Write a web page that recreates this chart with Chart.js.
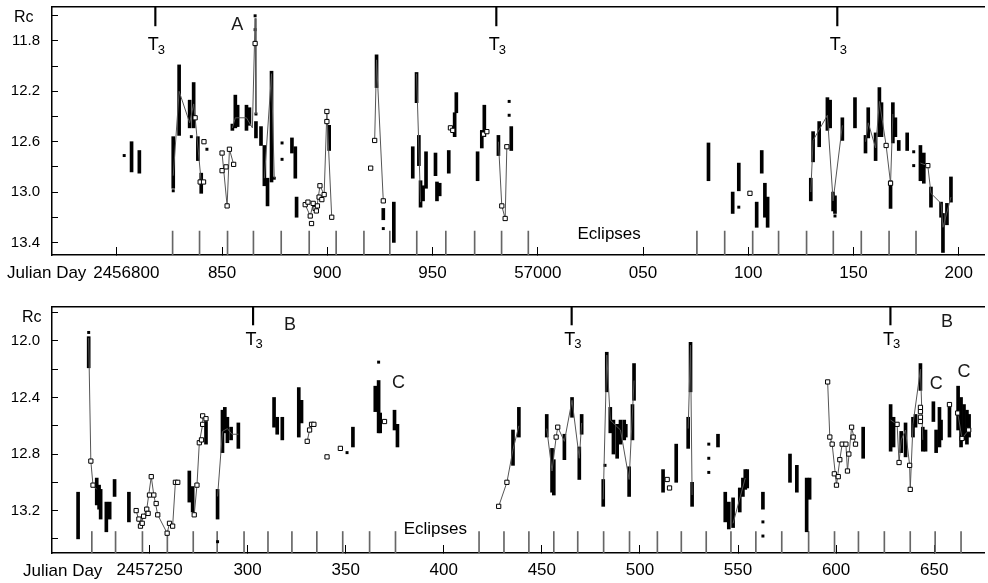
<!DOCTYPE html>
<html>
<head>
<meta charset="utf-8">
<script src="https://cdn.jsdelivr.net/npm/chart.js@4.4.1/dist/chart.umd.min.js"></script>
<style>
  html, body { margin: 0; padding: 0; background: #fff; }
  canvas { display: block; }
</style>
</head>
<body>
<canvas id="top-chart" width="988" height="290"></canvas>
<canvas id="bottom-chart" width="988" height="293"></canvas>
<script>
const FONT = "'Liberation Sans', Arial, Helvetica, sans-serif";
Chart.defaults.font.family = FONT;
Chart.defaults.color = '#000';

// ---------- upper panel, JD 2456770 - 2457212 ----------
const topXTicks = [56800, 56850, 56900, 56950, 57000, 57050, 57100, 57150, 57200];
const topXLabels = ['    2456800', '850', '900', '950', '57000', '050', '100', '150', '200'];
const topYTicks = [11.6, 11.8, 12.0, 12.2, 12.4, 12.6, 12.8, 13.0, 13.2, 13.4];
const topYLabels = ['', '11.8', '', '12.2', '', '12.6', '', '13.0', '', '13.4'];

const topT3 = [56818.3, 56980.3, 57142.3];
const topEclipses = [56826.5, 56839.3, 56852.6, 56864.9, 56878.1, 56891.4, 56904.2, 56917.4,
  56929.7, 56942.5, 56956.3, 56970.0, 56982.8, 56995.5, 57075.6, 57088.8, 57102.1, 57114.4,
  57127.7, 57140.4, 57153.7, 57166.9, 57179.7];

// nightly runs: [JD - 2400000, brightest Rc, faintest Rc]
const topColumns = [
  [56807.0, 12.60, 12.84], [56810.7, 12.67, 12.85], [56826.8, 12.56, 12.97], [56829.6, 11.99, 12.55],
  [56834.6, 12.27, 12.49], [56836.5, 12.13, 12.49], [56838.5, 12.56, 12.75], [56840.1, 12.85, 13.01],
  [56854.9, 12.46, 12.51], [56856.3, 12.23, 12.49], [56857.4, 12.31, 12.48], [56861.6, 12.31, 12.51],
  [56863.0, 12.33, 12.47], [56866.1, 12.44, 12.57], [56868.5, 12.48, 12.63], [56870.1, 12.63, 12.95],
  [56871.6, 12.89, 13.11], [56873.5, 12.04, 12.92], [56883.2, 12.57, 12.69], [56884.8, 12.64, 12.89],
  [56885.4, 13.04, 13.20], [56900.9, 12.47, 12.67], [56923.4, 11.91, 12.17], [56926.6, 13.13, 13.22],
  [56931.6, 13.08, 13.40], [56940.6, 12.64, 12.89], [56942.4, 12.05, 12.29], [56943.5, 12.55, 12.79],
  [56944.3, 12.91, 13.12], [56945.5, 12.95, 13.07], [56946.9, 12.68, 12.97], [56951.4, 12.69, 12.87],
  [56952.1, 12.92, 13.07], [56953.4, 12.93, 13.03], [56957.7, 12.67, 12.85], [56960.5, 12.37, 12.56],
  [56961.3, 12.21, 12.37], [56971.4, 12.68, 12.91], [56973.4, 12.51, 12.65], [56974.6, 12.31, 12.56],
  [56981.3, 12.55, 12.71], [56987.4, 12.48, 12.67], [57081.1, 12.61, 12.91], [57092.6, 13.00, 13.17],
  [57095.5, 12.77, 12.99], [57104.0, 13.08, 13.28], [57106.4, 12.67, 12.85], [57107.9, 12.93, 13.20],
  [57109.2, 13.04, 13.28], [57129.7, 12.89, 13.07], [57130.8, 12.52, 12.76], [57133.7, 12.44, 12.64],
  [57137.6, 12.25, 12.51], [57138.9, 12.27, 12.49], [57140.3, 13.00, 13.15], [57141.2, 13.03, 13.17],
  [57144.7, 12.41, 12.59], [57150.7, 12.25, 12.49], [57155.7, 12.55, 12.69], [57157.0, 12.33, 12.57],
  [57160.5, 12.53, 12.75], [57162.3, 12.17, 12.56], [57163.3, 12.29, 12.56], [57167.6, 12.91, 13.13],
  [57168.7, 12.29, 12.61], [57169.9, 12.41, 12.56], [57171.5, 12.59, 12.67], [57175.5, 12.53, 12.67],
  [57181.8, 12.63, 12.91], [57183.4, 12.69, 12.93], [57186.8, 12.96, 13.12], [57191.6, 13.08, 13.20],
  [57192.5, 13.17, 13.48], [57194.4, 13.09, 13.26], [57196.3, 12.88, 13.08]
];
const topDots = [
  [56803.5, 12.71], [56826.8, 12.99], [56835.4, 12.56], [56842.8, 12.66], [56865.7, 11.60],
  [56865.7, 11.71], [56866.1, 12.38], [56874.8, 12.89], [56878.5, 12.61], [56878.5, 12.74],
  [56926.6, 13.29], [56986.4, 12.28], [56986.4, 12.39], [57095.5, 13.12], [57141.2, 13.19],
  [57178.6, 12.68], [57178.6, 12.79]
];
const topOpen = [
  [56837.2, 12.41], [56839.6, 12.92], [56841.2, 12.92], [56841.4, 12.60], [56850.0, 12.69],
  [56850.0, 12.83], [56851.9, 12.80], [56852.4, 13.11], [56853.5, 12.66], [56855.5, 12.78],
  [56865.7, 11.82], [56889.5, 13.10], [56890.8, 13.08], [56891.9, 13.19], [56892.5, 13.25],
  [56893.3, 13.09], [56894.2, 13.13], [56894.8, 13.15], [56895.3, 13.11], [56896.1, 13.04],
  [56896.5, 12.95], [56897.4, 13.06], [56898.5, 13.02], [56899.8, 12.36], [56899.8, 12.44],
  [56902.1, 13.20], [56920.6, 12.81], [56922.5, 12.59], [56926.6, 13.07], [56958.5, 12.49],
  [56959.6, 12.51], [56974.2, 12.54], [56975.8, 12.52], [56982.9, 13.11], [56984.5, 13.21],
  [56985.3, 12.64], [57100.8, 13.01], [57165.5, 12.63], [57167.6, 12.93], [57185.3, 12.79]
];
const topCurves = [
  [[56826.8, 12.87], [56829.6, 12.20], [56834.6, 12.45], [56836.5, 12.30], [56837.2, 12.41], [56840.1, 12.92]],
  [[56850.0, 12.69], [56852.4, 13.11], [56853.5, 12.66], [56855.5, 12.78]],
  [[56854.9, 12.49], [56856.3, 12.41], [56861.6, 12.41], [56864.4, 12.49], [56865.7, 11.62], [56866.1, 12.38]],
  [[56870.1, 12.89], [56873.5, 12.06], [56874.8, 12.89]],
  [[56889.5, 13.10], [56891.9, 13.19], [56893.3, 13.09], [56894.8, 13.15], [56896.5, 12.95],
   [56898.5, 13.02], [56899.8, 12.36], [56902.1, 13.20]],
  [[56922.5, 12.59], [56923.4, 11.95], [56926.6, 13.07]],
  [[56942.4, 12.06], [56944.3, 13.08]],
  [[56981.3, 12.60], [56982.9, 13.11], [56984.5, 13.21], [56985.3, 12.64]],
  [[57129.7, 13.00], [57130.8, 12.59], [57137.6, 12.39], [57140.3, 13.07], [57144.7, 12.47]],
  [[57155.7, 12.60], [57157.0, 12.45], [57160.5, 12.65], [57162.3, 12.28], [57165.5, 12.63],
   [57167.6, 12.93], [57168.7, 12.38]],
  [[57181.8, 12.77], [57185.3, 12.79], [57186.8, 13.01], [57191.6, 13.09], [57192.5, 13.28], [57196.3, 13.04]]
];
const topLetters = [['A', 56857.2, 11.673]];
const topEclipseLabel = [57033.9, 13.333];

// ---------- lower panel, JD 2457200 - 2457675 ----------
const botXTicks = [57250, 57300, 57350, 57400, 57450, 57500, 57550, 57600, 57650];
const botXLabels = ['2457250', '300', '350', '400', '450', '500', '550', '600', '650'];
const botYTicks = [11.8, 12.0, 12.2, 12.4, 12.6, 12.8, 13.0, 13.2, 13.4];
const botYLabels = ['', '12.0', '', '12.4', '', '12.8', '', '13.2', ''];

const botT3 = [57302.8, 57465.2, 57627.7];
const botEclipses = [57220.6, 57232.7, 57246.4, 57259.1, 57272.3, 57284.5, 57298.2, 57310.4,
  57322.6, 57335.3, 57348.5, 57362.2, 57375.4, 57418.0, 57430.7, 57443.4, 57456.1, 57468.3,
  57481.5, 57494.7, 57508.9, 57521.1, 57533.8, 57546.4, 57559.1, 57572.3, 57586.0, 57599.2,
  57611.4, 57624.6, 57637.8, 57650.5, 57663.7];

const botColumns = [
  [57213.6, 13.07, 13.40], [57219.0, 11.97, 12.19], [57223.1, 12.97, 13.16], [57224.3, 13.02, 13.19],
  [57225.1, 13.05, 13.26], [57228.0, 13.14, 13.35], [57229.7, 13.14, 13.26], [57232.2, 12.98, 13.10],
  [57239.5, 13.07, 13.28], [57270.3, 12.92, 13.14], [57272.0, 13.03, 13.21], [57278.8, 12.57, 12.73],
  [57284.7, 13.05, 13.26], [57287.2, 12.49, 12.79], [57288.4, 12.47, 12.65], [57289.7, 12.54, 12.72],
  [57291.6, 12.61, 12.70], [57295.3, 12.58, 12.76], [57313.5, 12.40, 12.61], [57315.1, 12.54, 12.66],
  [57317.7, 12.54, 12.70], [57326.1, 12.33, 12.68], [57327.5, 12.42, 12.58], [57353.7, 12.61, 12.75],
  [57365.1, 12.32, 12.50], [57366.8, 12.28, 12.65], [57367.6, 12.51, 12.65], [57374.9, 12.49, 12.63],
  [57376.4, 12.59, 12.75], [57435.3, 12.63, 12.88], [57438.3, 12.47, 12.68], [57452.5, 12.52, 12.68],
  [57455.2, 12.76, 13.07], [57456.1, 12.84, 13.09], [57461.5, 12.66, 12.84], [57465.4, 12.40, 12.54],
  [57469.1, 12.75, 12.98], [57470.3, 12.52, 12.66], [57481.3, 12.98, 13.17], [57483.1, 12.08, 12.36],
  [57484.9, 12.47, 12.65], [57486.5, 12.56, 12.80], [57488.4, 12.59, 12.83], [57490.1, 12.56, 12.73],
  [57492.0, 12.56, 12.70], [57492.8, 12.59, 12.68], [57494.5, 12.89, 13.10], [57496.2, 12.45, 12.70],
  [57497.0, 12.16, 12.42], [57511.8, 12.91, 13.07], [57518.5, 12.73, 13.00], [57524.6, 12.54, 12.76],
  [57525.8, 12.01, 12.36], [57526.6, 13.00, 13.17], [57539.8, 12.66, 12.75], [57543.5, 13.07, 13.28],
  [57545.3, 13.14, 13.33], [57547.5, 13.11, 13.32], [57550.9, 13.04, 13.21], [57552.5, 12.97, 13.10],
  [57553.7, 12.91, 13.05], [57554.7, 12.91, 13.04], [57562.7, 13.07, 13.19], [57576.5, 12.80, 13.00],
  [57580.0, 12.88, 13.07], [57585.0, 12.97, 13.35], [57586.5, 12.97, 13.12], [57613.8, 12.61, 12.83],
  [57627.8, 12.45, 12.78], [57629.3, 12.54, 12.75], [57633.2, 12.64, 12.79], [57635.4, 12.58, 12.82],
  [57639.2, 12.54, 12.68], [57640.5, 12.52, 12.61], [57643.0, 12.16, 12.35], [57644.2, 12.61, 12.78],
  [57645.6, 12.63, 12.78], [57649.6, 12.43, 12.57], [57651.0, 12.63, 12.79], [57652.7, 12.47, 12.75],
  [57653.5, 12.56, 12.70], [57657.8, 12.47, 12.68], [57662.2, 12.32, 12.63], [57663.7, 12.40, 12.75],
  [57665.2, 12.45, 12.70], [57666.7, 12.49, 12.73], [57667.8, 12.52, 12.68]
];
const botDots = [
  [57219.0, 11.94], [57284.7, 13.42], [57350.7, 12.79], [57366.8, 12.15], [57482.2, 12.88],
  [57535.1, 12.73], [57535.1, 12.83], [57535.1, 12.93], [57562.7, 13.28], [57562.7, 13.38]
];
const botOpen = [
  [57220.1, 12.85], [57221.2, 13.02], [57243.2, 13.20], [57244.6, 13.26], [57245.4, 13.31],
  [57246.3, 13.29], [57247.0, 13.24], [57248.6, 13.19], [57249.3, 13.22], [57250.0, 13.09],
  [57250.9, 12.96], [57252.2, 13.09], [57253.4, 13.15], [57254.2, 13.23], [57259.0, 13.36],
  [57260.2, 13.29], [57261.8, 13.31], [57263.2, 13.00], [57264.4, 13.00], [57272.8, 13.23],
  [57274.2, 13.02], [57275.4, 12.72], [57276.5, 12.70], [57277.1, 12.59], [57277.1, 12.53],
  [57278.8, 12.55], [57330.4, 12.71], [57331.6, 12.63], [57332.6, 12.59], [57333.8, 12.59],
  [57340.5, 12.82], [57347.3, 12.76], [57369.8, 12.57], [57428.0, 13.17], [57432.2, 13.00],
  [57457.3, 12.68], [57458.1, 12.61], [57513.9, 12.98], [57515.1, 13.04], [57595.7, 12.29],
  [57596.8, 12.68], [57598.0, 12.73], [57599.1, 12.94], [57600.2, 13.02], [57601.1, 12.96],
  [57601.9, 12.84], [57603.1, 12.73], [57605.0, 12.73], [57605.8, 12.92], [57606.5, 12.80],
  [57607.9, 12.61], [57608.7, 12.68], [57609.9, 12.73], [57631.1, 12.59], [57632.1, 12.86],
  [57637.5, 12.88], [57637.8, 13.05], [57643.0, 12.47], [57643.0, 12.50], [57643.0, 12.54],
  [57643.0, 12.57], [57657.8, 12.45], [57662.0, 12.51], [57664.2, 12.69], [57667.6, 12.63]
];
const botCurves = [
  [[57219.0, 11.98], [57220.1, 12.85], [57221.2, 13.02], [57223.1, 13.05]],
  [[57243.2, 13.20], [57245.4, 13.31], [57247.0, 13.24], [57248.6, 13.19], [57250.9, 12.96],
   [57252.2, 13.09], [57254.2, 13.23], [57259.0, 13.36], [57260.2, 13.29], [57261.8, 13.31], [57263.2, 13.00]],
  [[57272.8, 13.23], [57274.2, 13.02], [57275.4, 12.72], [57277.1, 12.59], [57277.1, 12.53]],
  [[57284.7, 13.10], [57287.2, 12.64], [57289.7, 12.62], [57292.0, 12.66], [57295.3, 12.66]],
  [[57330.4, 12.71], [57331.6, 12.63], [57333.8, 12.59]],
  [[57428.0, 13.17], [57432.2, 13.00], [57435.3, 12.77], [57438.3, 12.60]],
  [[57452.5, 12.62], [57455.2, 12.92], [57457.3, 12.68], [57458.1, 12.61], [57461.5, 12.71],
   [57465.4, 12.42], [57469.1, 12.83], [57470.3, 12.58]],
  [[57481.3, 13.12], [57483.1, 12.10], [57484.9, 12.56], [57490.1, 12.63], [57494.5, 12.98], [57497.0, 12.28]],
  [[57524.6, 12.62], [57525.8, 12.03], [57526.6, 13.09]],
  [[57547.5, 13.29], [57553.7, 12.97]],
  [[57595.7, 12.29], [57596.8, 12.68], [57598.0, 12.73], [57600.2, 13.02], [57601.9, 12.84],
   [57603.1, 12.73], [57605.0, 12.73], [57605.8, 12.92], [57607.9, 12.61], [57609.9, 12.73]],
  [[57627.8, 12.56], [57631.1, 12.59], [57632.1, 12.86], [57633.2, 12.70], [57635.4, 12.63],
   [57637.5, 12.88], [57637.8, 13.05], [57639.2, 12.59], [57643.0, 12.20], [57644.2, 12.70]],
  [[57662.0, 12.51], [57664.2, 12.69], [57667.6, 12.63]]
];
const botLetters = [['B', 57321.6, 11.887], ['B', 57656.6, 11.866], ['C', 57376.9, 12.296],
  ['C', 57651.0, 12.303], ['C', 57665.2, 12.219]];
const botEclipseLabel = [57395.7, 13.334];

function textPlugin(p) {
  return {
    id: 'panelText',
    afterDraw(chart) {
      const ctx = chart.ctx;
      const xs = chart.scales.x, ys = chart.scales.y;
      ctx.save();
      ctx.fillStyle = '#000';
      ctx.textBaseline = 'middle';
      ctx.textAlign = 'left';
      ctx.font = '16px ' + FONT;
      ctx.fillText('Rc', p.rc[0], p.rc[1]);
      ctx.font = '17px ' + FONT;
      ctx.fillText('Julian Day', p.jd[0], p.jd[1]);

      // T3 labels under each marker
      const lineEnd = ys.getPixelForValue(p.t3End);
      p.t3.forEach(d => {
        const px = xs.getPixelForValue(d);
        ctx.textBaseline = 'alphabetic';
        ctx.textAlign = 'center';
        ctx.font = '18px ' + FONT;
        ctx.fillText('T', px - 2, lineEnd + p.t3Gap);
        ctx.textAlign = 'left';
        ctx.font = '13px ' + FONT;
        ctx.fillText('3', px + 2.5, lineEnd + p.t3Gap + 3.5);
      });

      ctx.textAlign = 'center';
      ctx.textBaseline = 'middle';
      ctx.font = '18px ' + FONT;
      ctx.fillStyle = '#1a1a1a';
      p.letters.forEach(([txt, d, m]) => {
        ctx.fillText(txt, xs.getPixelForValue(d), ys.getPixelForValue(m));
      });
      ctx.fillStyle = '#000';
      ctx.font = '17px ' + FONT;
      ctx.fillText('Eclipses', xs.getPixelForValue(p.eclLabel[0]), ys.getPixelForValue(p.eclLabel[1]));
      ctx.restore();
    }
  };
}

function makePanel(canvasId, p) {
  const ctx = document.getElementById(canvasId).getContext('2d');
  const pts = rows => rows.map(([x, y]) => ({ x, y }));
  const bars = (rows, extra) => Object.assign({
    type: 'bar', stack: 'marks', borderWidth: 0, borderSkipped: false, data: rows
  }, extra);

  const datasets = [
    { type: 'scatter', data: pts(p.open), pointStyle: 'rect', pointRadius: 3, pointHoverRadius: 3,
      pointBackgroundColor: '#fff', pointBorderColor: '#000', pointBorderWidth: 1 },
    ...p.curves.map(seg => ({ type: 'scatter', showLine: true, data: pts(seg),
      borderColor: '#555', borderWidth: 1, pointRadius: 0, pointHoverRadius: 0 })),
    { type: 'scatter', data: pts(p.dots), pointStyle: 'rect', pointRadius: 2.1, pointHoverRadius: 2.1,
      pointBackgroundColor: '#000', pointBorderWidth: 0 },
    bars(p.columns.map(([x, lo, hi]) => ({ x, y: [lo, hi] })), { backgroundColor: '#000', barThickness: 3 }),
    bars(p.t3.map(x => ({ x, y: [p.magRange[0], p.t3End] })), { backgroundColor: '#000', barThickness: 1.5 }),
    bars(p.eclipses.map(x => ({ x, y: [p.eclTop, p.magRange[1]] })), { backgroundColor: '#666', barThickness: 1 })
  ];

  return new Chart(ctx, {
    type: 'scatter',
    data: { datasets },
    options: {
      responsive: false,
      animation: false,
      events: [],
      layout: { padding: { top: p.padTop, left: 0, right: 0, bottom: 0 } },
      plugins: { legend: { display: false }, tooltip: { enabled: false } },
      scales: {
        x: {
          type: 'linear', position: 'bottom', min: p.range[0], max: p.range[1], offset: false,
          afterBuildTicks: s => { s.ticks = p.xTicks.map(value => ({ value })); },
          afterFit: s => { s.height = p.xAxisHeight; s.paddingLeft = 0; s.paddingRight = 0; },
          ticks: { autoSkip: false, maxRotation: 0, padding: p.xLabelPad, color: '#000',
                   font: { size: 17 }, callback: (v, i) => p.xLabels[i] },
          grid: { drawOnChartArea: false, tickLength: -8, tickColor: '#000', offset: false },
          border: { display: true, color: '#000', width: 1.5 }
        },
        xTop: {
          type: 'linear', position: 'top', min: 0, max: 1, offset: false,
          afterFit: s => { s.height = 0; s.paddingLeft = 0; s.paddingRight = 0; },
          ticks: { display: false },
          grid: { drawOnChartArea: false, drawTicks: false, offset: false },
          border: { display: true, color: '#000', width: 1.5 }
        },
        y: {
          type: 'linear', position: 'left', reverse: true, stacked: false, beginAtZero: false,
          min: p.magRange[0], max: p.magRange[1],
          afterBuildTicks: s => { s.ticks = p.yTicks.map(value => ({ value })); },
          afterFit: s => { s.width = 52; s.paddingTop = 0; s.paddingBottom = 0; },
          ticks: { autoSkip: false, padding: 18, color: '#000', font: { size: 15 },
                   callback: (v, i) => p.yLabels[i] },
          grid: { drawOnChartArea: false, tickLength: -6, tickColor: '#000' },
          border: { display: true, color: '#000', width: 1.5 }
        }
      }
    },
    plugins: [textPlugin(p)]
  });
}

makePanel('top-chart', {
  range: [56769.2, 57212.0], magRange: [11.53, 13.50],
  xTicks: topXTicks, xLabels: topXLabels, yTicks: topYTicks, yLabels: topYLabels,
  t3: topT3, t3End: 11.68, eclipses: topEclipses, eclTop: 13.31,
  columns: topColumns, dots: topDots, open: topOpen, curves: topCurves,
  letters: topLetters, eclLabel: topEclipseLabel,
  padTop: 7, xAxisHeight: 35, xLabelPad: 16, t3Gap: 24.5,
  rc: [14, 18], jd: [7, 273]
});

makePanel('bottom-chart', {
  range: [57200.3, 57675.4], magRange: [11.76, 13.50],
  xTicks: botXTicks, xLabels: botXLabels, yTicks: botYTicks, yLabels: botYLabels,
  t3: botT3, t3End: 11.887, eclipses: botEclipses, eclTop: 13.348,
  columns: botColumns, dots: botDots, open: botOpen, curves: botCurves,
  letters: botLetters, eclLabel: botEclipseLabel,
  padTop: 17, xAxisHeight: 30, xLabelPad: 15, t3Gap: 20,
  rc: [22, 28], jd: [23, 281]
});
</script>
</body>
</html>
